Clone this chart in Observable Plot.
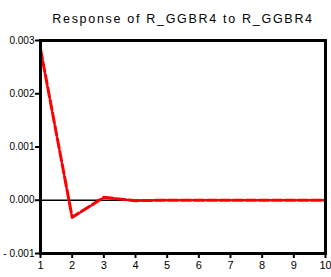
<!DOCTYPE html>
<html><head><meta charset="utf-8">
<script src="https://cdn.jsdelivr.net/npm/d3@7"></script>
<script src="https://cdn.jsdelivr.net/npm/@observablehq/plot@0.6"></script>
<style>body{margin:0;background:#fff;} svg{display:block;} .ttl text{letter-spacing:1.7px;}</style>
</head><body><div id="chart"></div>
<script>
const periods = [1,2,3,4,5,6,7,8,9,10];
const responseA = [0.00284,-0.000330,0.000050,-0.000010,0.000002,0,0,0,0,0];
const responseB = [0.00284,-0.000320,0.000055,-0.000008,0.000002,0,0,0,0,0];
const yTicks = [-0.001,0.000,0.001,0.002,0.003];
const title = "Response of R_GGBR4 to R_GGBR4";

const dataA = periods.map((p,i)=>({p, v: responseA[i]}));
const dataB = periods.map((p,i)=>({p, v: responseB[i]}));
const fmt = d => d < 0 ? "- " + Math.abs(d).toFixed(3) : d.toFixed(3);

const chart = Plot.plot({
  width: 331, height: 277,
  marginLeft: 40, marginRight: 6, marginTop: 40, marginBottom: 24,
  style: {fontFamily: "Liberation Sans, Arial, sans-serif", background: "#fff"},
  x: {domain: [1,10]},
  y: {domain: [-0.001, 0.003]},
  marks: [
    Plot.ruleY([0], {stroke: "black", strokeWidth: 1.5}),
    Plot.line(dataA, {x: "p", y: "v", stroke: "#0000ff", strokeWidth: 1.5}),
    Plot.line(dataB, {x: "p", y: "v", stroke: "#ff0000", strokeWidth: 3, strokeDasharray: "10,3"}),
    Plot.frame({stroke: "black", strokeWidth: 3}),
    Plot.axisY({ticks: yTicks, tickFormat: fmt, tickSize: 5, tickPadding: 1, strokeWidth: 2, fontSize: 10, label: null, fill: "black"}),
    Plot.axisX({ticks: periods, tickFormat: d => String(d), tickSize: 5, tickPadding: 3, strokeWidth: 2, fontSize: 11, label: null, fill: "black"}),
    Plot.text([title], {frameAnchor: "top", dy: -26, fontSize: 12.5, fill: "black", className: "ttl"})
  ]
});
document.getElementById("chart").appendChild(chart);
</script></body></html>
